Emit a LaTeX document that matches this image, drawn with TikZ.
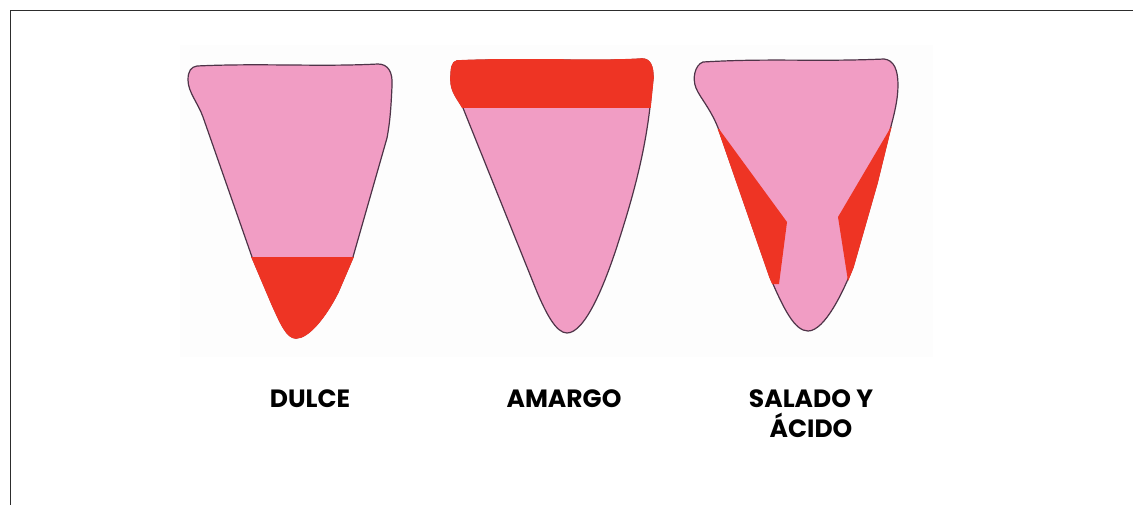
\documentclass[tikz,border=0pt]{standalone}
\usepackage{fontspec}
\setmainfont{Poppins}
\begin{document}
\definecolor{tonguepink}{RGB}{241,157,196}
\definecolor{tastered}{RGB}{238,52,36}
\definecolor{edgeline}{RGB}{78,52,72}
\definecolor{framegray}{RGB}{45,45,45}
% tongue outlines (y grows downwards)
\newcommand{\shapeDulce}{(197,66) .. controls (260,63) and (320,67) .. (378,64) .. controls (388,64) and (393,72) .. (392,86) .. controls (391,108) and (390,122) .. (387,138) -- (353,257) -- (338,292) .. controls (325,318) and (308,338) .. (296,338) .. controls (287,338) and (281,324) .. (272,304) -- (252,257) -- (203,117) .. controls (198,103) and (188,92) .. (188,80) .. controls (188,71) and (191,67) .. (197,66) -- cycle}
\newcommand{\shapeAmargo}{(457,61) .. controls (520,58) and (600,62) .. (642,59) .. controls (650,59) and (653,66) .. (653,78) -- (650,107) .. controls (645,150) and (635,190) .. (620,237) .. controls (605,285) and (585,333) .. (567,333) .. controls (556,333) and (546,313) .. (537,292) -- (463,108) .. controls (458,99) and (451,92) .. (451,80) .. controls (451,68) and (452,62) .. (457,61) -- cycle}
\newcommand{\shapeSalado}{(703,62) .. controls (770,58) and (815,62) .. (884,59) .. controls (894,60) and (898,70) .. (898,85) .. controls (898,100) and (894,115) .. (890,130) -- (877,183) -- (853,267) .. controls (844,290) and (825,331) .. (808,331) .. controls (795,331) and (784,310) .. (770,277) -- (720,133) .. controls (712,110) and (700,98) .. (696,88) .. controls (692,78) and (695,65) .. (703,62) -- cycle}
\tikzset{
  tongue/.style={fill=tonguepink},
  tongueedge/.style={draw=edgeline, line width=1.2pt},
  taste/.style={fill=tastered},
  tasteedge/.style={draw=tastered, line width=1.6pt},
  tastelabel/.style={font=\fontsize{25}{30}\selectfont\bfseries, text=black, align=center, inner sep=0pt}
}
\begin{tikzpicture}[x=1pt, y=-1pt]
  \useasboundingbox (0,0) rectangle (1133,504);
  % page frame (top and left edges)
  \draw[framegray, line width=1.9pt] (10.5,510) -- (10.5,10.5) -- (1140,10.5);
  % faint backdrop behind the three tongues
  \fill[black!0.8] (180,45) rectangle (933,357);

  % --- sweet: tip of the tongue ---
  \fill[tongue] \shapeDulce;
  \draw[tongueedge] \shapeDulce;
  \begin{scope}
    \clip (150,257) rectangle (450,400);
    \fill[taste] \shapeDulce;
    \draw[tasteedge] \shapeDulce;
  \end{scope}

  % --- bitter: back of the tongue ---
  \fill[tongue] \shapeAmargo;
  \draw[tongueedge] \shapeAmargo;
  \begin{scope}
    \clip (420,40) rectangle (700,107);
    \fill[taste] \shapeAmargo;
    \draw[tasteedge] \shapeAmargo;
  \end{scope}

  % --- salty and sour: sides of the tongue ---
  \fill[tongue] \shapeSalado;
  \draw[tongueedge] \shapeSalado;
  \begin{scope}
    \clip (680,124) -- (719,129) -- (787,222) -- (779,284) -- (680,284) -- cycle;
    \fill[taste] \shapeSalado;
    \draw[tasteedge] \shapeSalado;
  \end{scope}
  \begin{scope}
    \clip (930,124) -- (891,127) -- (838,217) -- (848,281) -- (930,281) -- cycle;
    \fill[taste] \shapeSalado;
    \draw[tasteedge] \shapeSalado;
  \end{scope}

  % labels
  \node[tastelabel, anchor=base] (dulce) at (310,407) {DULCE};
  \node[tastelabel, anchor=base] (amargo) at (564,407) {AMARGO};
  \node[tastelabel, anchor=base] (salado) at (811,437) {SALADO Y\\ÁCIDO};
\end{tikzpicture}
\end{document}
